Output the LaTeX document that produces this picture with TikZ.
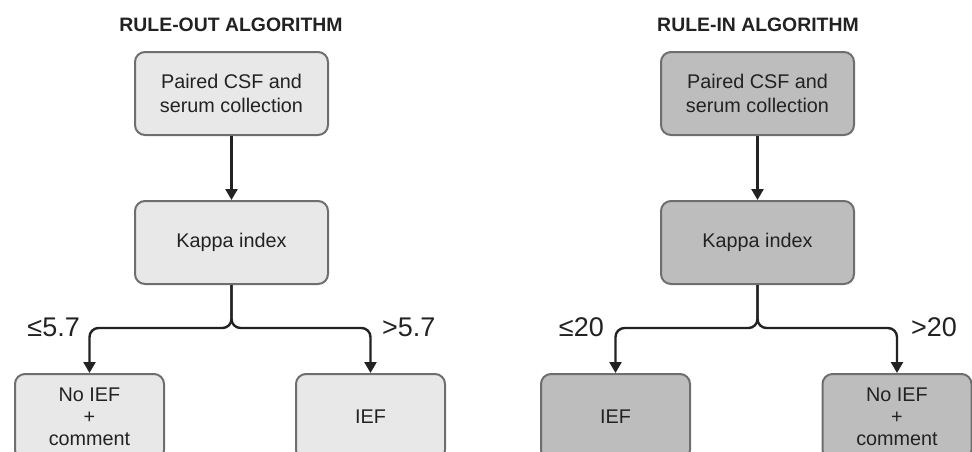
\documentclass[tikz,border=0pt]{standalone}
\usepackage{fontspec}
\setmainfont{Liberation Sans}
\usetikzlibrary{arrows.meta}
\definecolor{lightfill}{HTML}{E8E8E8}
\definecolor{darkfill}{HTML}{BDBDBD}
\definecolor{boxline}{HTML}{6E6E6E}
\definecolor{arrowcol}{HTML}{222222}
\tikzset{
  box/.style={draw=boxline, line width=2pt, rounded corners=10pt, align=center,
    inner sep=0pt, text=arrowcol, font=\fontsize{19.8}{24}\selectfont},
  topbox/.style={box, minimum width=193pt, minimum height=83pt},
  endbox/.style={box, minimum width=149pt, minimum height=86pt, font=\fontsize{19.8}{22}\selectfont},
  title/.style={font=\bfseries\fontsize{19.4}{22}\selectfont, text=arrowcol},
  lbl/.style={font=\fontsize{27}{30}\selectfont, text=arrowcol, inner sep=0pt},
  conn/.style={draw=arrowcol, line width=2.4pt, -{Triangle[width=12pt,length=11pt]}},
  branch/.style={conn, rounded corners=9pt}
}
\begin{document}
\begin{tikzpicture}[x=1pt,y=-1pt]
\useasboundingbox (0,0) rectangle (972,451);
\clip (0,0) rectangle (972,451);
% Left: rule-out
\node[title] (t1) at (231,25) {RULE-OUT ALGORITHM};
\node[topbox, fill=lightfill] (a1) at (231.5,93.5) {Paired CSF and\\serum collection};
\node[topbox, fill=lightfill] (b1) at (231.5,242.5) {Kappa index};
\node[endbox, fill=lightfill] (c1) at (89.5,417) {No IEF\\+\\comment};
\node[endbox, fill=lightfill] (d1) at (370.5,417) {IEF};
\coordinate (m1) at (231.5,328);
\draw[conn] (a1) -- (b1);
\draw[branch] (b1.south) |- (c1.north |- m1) -- (c1.north);
\draw[branch] (b1.south) |- (d1.north |- m1) -- (d1.north);
\node[lbl, anchor=east] (l1) at (80,327) {≤5.7};
\node[lbl, anchor=west] (r1) at (382,327) {>5.7};
% Right: rule-in
\node[title] (t2) at (758,25) {RULE-IN ALGORITHM};
\node[topbox, fill=darkfill] (a2) at (757.5,93.5) {Paired CSF and\\serum collection};
\node[topbox, fill=darkfill] (b2) at (757.5,242.5) {Kappa index};
\node[endbox, fill=darkfill] (c2) at (615.5,417) {IEF};
\node[endbox, fill=darkfill] (d2) at (897,417) {No IEF\\+\\comment};
\coordinate (m2) at (757.5,328);
\draw[conn] (a2) -- (b2);
\draw[branch] (b2.south) |- (c2.north |- m2) -- (c2.north);
\draw[branch] (b2.south) |- (d2.north |- m2) -- (d2.north);
\node[lbl, anchor=east] (l2) at (604,327) {≤20};
\node[lbl, anchor=west] (r2) at (911,327) {>20};
\end{tikzpicture}
\end{document}
